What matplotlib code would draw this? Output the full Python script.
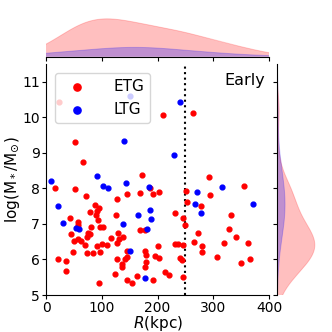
import matplotlib
matplotlib.use("Agg")
import matplotlib.pyplot as plt
import numpy as np

# ETG 數據 (R in kpc, log stellar mass)
etg_r = [66, 172.5, 16.8, 51.5, 71, 87.4, 95, 92, 78.4, 89.8, 94, 43, 57, 58, 96, 102, 80,
         44, 75, 78, 74, 50, 57, 62, 70, 92, 100.6, 109.6, 116, 48.5, 74, 84, 96, 22, 36.5,
         36.5, 94.6, 127.5, 145, 169, 185.6, 192, 203, 124.6, 128.7, 138, 131.7, 128, 145,
         146, 142.5, 127, 136, 136, 124, 145, 154, 163, 169, 177, 176.6, 179.6, 179.6, 178,
         192, 195, 201.8, 200, 213.8, 221, 231, 245, 249.7, 231.7, 236.5, 245, 239.5, 244,
         245, 251, 253, 272, 265, 280, 279, 278, 292.8, 294, 307, 320, 328, 332, 340.7,
         354.5, 350, 363, 366, 51.5, 209, 263, 23]
etg_m = [8.74, 8.39, 8.01, 7.97, 7.78, 7.54, 7.44, 7.36, 7.34, 7.24, 7.12, 7.16, 7.05, 6.96,
         6.91, 6.91, 6.92, 6.73, 6.74, 6.71, 6.62, 6.53, 6.58, 6.53, 6.42, 6.39, 6.44, 6.41,
         6.61, 6.21, 6.18, 6.18, 6.21, 6.02, 5.96, 5.68, 5.33, 7.71, 7.83, 7.88, 8.01, 7.84,
         7.89, 7.25, 6.74, 6.62, 6.58, 6.47, 6.23, 6.08, 6.01, 6.02, 5.87, 5.79, 5.60, 5.42,
         5.33, 5.53, 6.82, 6.82, 6.24, 6.12, 5.92, 5.79, 5.43, 6.10, 6.05, 6.39, 5.66, 5.56,
         7.31, 7.16, 6.96, 6.44, 6.44, 6.40, 6.05, 5.98, 5.52, 7.92, 7.61, 6.75, 6.48, 6.38,
         6.21, 7.51, 8.31, 7.81, 6.07, 6.45, 6.87, 7.26, 6.63, 8.06, 5.90, 6.46, 6.00, 9.30,
         10.07, 10.12, 10.43]

# LTG 數據
ltg_r = [230, 8.4, 91.6, 102, 112, 144, 185, 22, 30.5, 53, 59, 165, 187, 189, 138, 181,
         151, 178, 270, 315.6, 268, 278, 370.7, 140, 241, 151]
ltg_m = [8.95, 8.22, 8.36, 8.06, 8.00, 8.15, 8.04, 7.50, 7.02, 6.88, 6.85, 7.25, 7.38, 7.13,
         7.0, 6.87, 6.25, 5.49, 7.89, 8.05, 7.57, 7.30, 7.57, 9.33, 10.43, 10.60]

r_cut = 250
x_ticks = [0, 100, 200, 300, 400]
y_ticks = [5, 6, 7, 8, 9, 10, 11]


def kde(vals, grid, n_total, adjust=1.0):
    # gaussian kde, scott bandwidth, scaled by group fraction
    v = np.asarray(vals, dtype=float)
    bw = adjust * v.std(ddof=1) * len(v) ** (-0.2)
    d = np.exp(-0.5 * ((grid[:, None] - v[None, :]) / bw) ** 2).sum(axis=1)
    d /= (len(v) * bw * np.sqrt(2 * np.pi))
    return d * len(v) / n_total


fig = plt.figure(figsize=(3.32, 3.32), dpi=100)
ax = fig.add_axes([0.1386, 0.1114, 0.672, 0.696])
ax_top = fig.add_axes([0.1386, 0.829, 0.672, 0.12], sharex=ax)
ax_right = fig.add_axes([0.834, 0.1114, 0.12, 0.696], sharey=ax)

# 散佈圖
ax.scatter(etg_r, etg_m, s=12, color='red', label='ETG', zorder=3)
ax.scatter(ltg_r, ltg_m, s=12, color='blue', label='LTG', zorder=3)
ax.axvline(r_cut, color='black', linestyle=':', linewidth=1.5)

ax.set_xlim(0, 400)
ax.set_ylim(5, 11.5)
ax.set_xticks(x_ticks)
ax.set_yticks(y_ticks)
ax.tick_params(labelsize=10, length=3, pad=1.5)
ax.set_xlabel(r'$R$(kpc)', fontsize=11, labelpad=-1)
ax.set_ylabel(r'log(M$_*$/M$_{\odot}$)', fontsize=11, labelpad=0)
ax.spines['top'].set_visible(False)
ax.spines['right'].set_visible(False)
ax.legend(loc='upper left', fontsize=11, markerscale=1.5, handletextpad=1.4,
          borderaxespad=0.6)
ax.text(0.98, 0.96, 'Early', transform=ax.transAxes, ha='right', va='top', fontsize=11.5)

# 邊緣分佈
n_all = len(etg_r) + len(ltg_r)
gx = np.linspace(-150, 550, 400)
gy = np.linspace(3, 13, 400)
top_max = 0
right_max = 0
for r, m, col in [(etg_r, etg_m, 'red'), (ltg_r, ltg_m, 'blue')]:
    dx = kde(r, gx, n_all, 1.35)
    dy = kde(m, gy, n_all, 1.15)
    top_max = max(top_max, dx[(gx >= 0) & (gx <= 400)].max())
    right_max = max(right_max, dy[(gy >= 5) & (gy <= 11.5)].max())
    ax_top.fill_between(gx, 0, dx, color=col, alpha=0.25, linewidth=0)
    ax_top.plot(gx, dx, color=col, alpha=0.2, linewidth=0.7)
    ax_right.fill_betweenx(gy, 0, dy, color=col, alpha=0.25, linewidth=0)
    ax_right.plot(dy, gy, color=col, alpha=0.2, linewidth=0.7)

ax_top.set_xlim(0, 400)
ax_top.set_ylim(0, top_max * 1.05)
ax_top.tick_params(labelbottom=False, left=False, labelleft=False, length=3)
for s in ['top', 'right', 'left']:
    ax_top.spines[s].set_visible(False)

ax_right.set_ylim(5, 11.5)
ax_right.set_xlim(0, right_max * 1.05)
ax_right.tick_params(labelleft=False, bottom=False, labelbottom=False, length=3)
for s in ['top', 'right', 'bottom']:
    ax_right.spines[s].set_visible(False)

fig.savefig('out.png', dpi=100)
